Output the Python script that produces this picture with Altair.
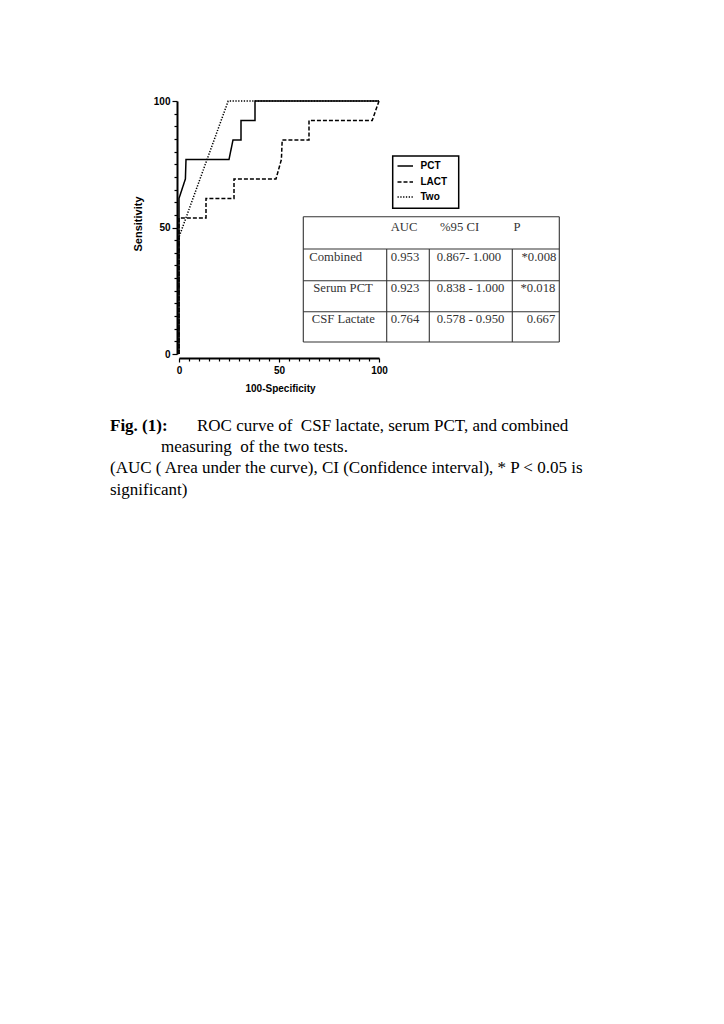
import altair as alt
import pandas as pd

# ---------------- data ----------------
pct_x = [0, 0, 3.2, 3.5, 25, 27, 31, 31, 38, 38, 100]
pct_y = [0, 61.5, 69.2, 76.9, 76.9, 84.6, 84.6, 92.3, 92.3, 100, 100]

lact_x = [0, 0, 13.5, 13.5, 27.5, 27.5, 48.5, 51.2, 51.6, 65, 65, 96.6, 100]
lact_y = [0, 53.8, 53.8, 61.5, 61.5, 69.2, 69.2, 76.9, 84.6, 84.6, 92.3, 92.3, 100]

two_x = [0, 0, 24.6, 100]
two_y = [0, 46.2, 100, 100]

series_names = ["PCT", "LACT", "Two"]

table_header = ["AUC", "%95 CI", "P"]
table_rows = ["Combined", "Serum PCT", "CSF Lactate"]
table_auc = ["0.953", "0.923", "0.764"]
table_ci = ["0.867- 1.000", "0.838 - 1.000", "0.578 - 0.950"]
table_p = ["*0.008", "*0.018", "0.667"]

caption_bold = "Fig. (1):"
caption_lines = [
    "ROC curve of\u00a0 CSF lactate, serum PCT, and combined",
    "measuring\u00a0 of the two tests.",
    "(AUC ( Area under the curve), CI (Confidence interval), * P < 0.05 is",
    "significant)",
]

x_title = "100-Specificity"
y_title = "Sensitivity"

# ---------------- layout (page pixels -> data units) ----------------
PLOT_LEFT, PLOT_TOP, PLOT_W, PLOT_H = 179, 101, 200, 253


def dx(px):
    return (px - PLOT_LEFT) / PLOT_W * 100


def dy(py):
    return (PLOT_TOP + PLOT_H - py) / PLOT_H * 100


rows = []
for name, xs_, ys_ in zip(series_names, [pct_x, lact_x, two_x], [pct_y, lact_y, two_y]):
    for i, (a, b) in enumerate(zip(xs_, ys_)):
        rows.append({"series": name, "i": i, "x": a, "y": b})
curves = pd.DataFrame(rows)

xs = alt.Scale(domain=[0, 100], nice=False, zero=False)
ys = alt.Scale(domain=[0, 100], nice=False, zero=False)

tick_vals = list(range(0, 101, 5))
xaxis = alt.Axis(
    values=tick_vals, title=None, offset=4, grid=False, labelFlush=False,
    labelExpr="datum.value % 50 === 0 ? datum.label : ''",
    tickSize={"condition": {"test": "datum.value % 50 === 0", "value": 4}, "value": 3},
    labelPadding=3, labelAngle=0,
)
yaxis = alt.Axis(
    values=tick_vals, title=None, offset=2, grid=False, labelFlush=False,
    labelExpr="datum.value % 50 === 0 ? datum.label : ''",
    tickSize={"condition": {"test": "datum.value % 50 === 0", "value": 5}, "value": 3},
    labelPadding=2,
)


def X(f):
    return alt.X(f, scale=xs, axis=xaxis)


def Y(f):
    return alt.Y(f, scale=ys, axis=yaxis)


dash_scale = alt.Scale(domain=series_names, range=[[1, 0], [4, 2], [1.3, 1.5]])

lines = alt.Chart(curves).mark_line(color="black", strokeWidth=1.5).encode(
    x=X("x:Q"), y=Y("y:Q"),
    strokeDash=alt.StrokeDash("series:N", scale=dash_scale, legend=None),
    detail="series:N",
    order="i:Q",
)

# axis titles
titles_df = pd.DataFrame([
    {"t": x_title, "x": dx(280.5), "y": dy(388.5)},
    {"t": y_title, "x": dx(139), "y": dy(224)},
])
title_x = alt.Chart(titles_df.iloc[[0]]).mark_text(
    font="Liberation Sans", fontWeight="bold", fontSize=10, color="black", baseline="middle", align="center"
).encode(x=X("x:Q"), y=Y("y:Q"), text="t:N")
title_y = alt.Chart(titles_df.iloc[[1]]).mark_text(
    font="Liberation Sans", fontWeight="bold", fontSize=11, color="black", baseline="middle", align="center", angle=270
).encode(x=X("x:Q"), y=Y("y:Q"), text="t:N")

# legend box
leg_box = pd.DataFrame([{"x": dx(392.7), "y": dy(156), "x2": dx(458.7), "y2": dy(208.3)}])
legend_rect = alt.Chart(leg_box).mark_rect(fill="white", stroke="black", strokeWidth=1.5).encode(
    x=X("x:Q"), y=Y("y:Q"), x2="x2:Q", y2="y2:Q"
)
leg_rows = []
for name, py in zip(series_names, [166, 182, 197]):
    leg_rows.append({"series": name, "i": 0, "x": dx(397.5), "y": dy(py)})
    leg_rows.append({"series": name, "i": 1, "x": dx(413), "y": dy(py)})
leg_df = pd.DataFrame(leg_rows)
legend_lines = alt.Chart(leg_df).mark_line(color="black", strokeWidth=1.5).encode(
    x=X("x:Q"), y=Y("y:Q"),
    strokeDash=alt.StrokeDash("series:N", scale=dash_scale, legend=None),
    detail="series:N", order="i:Q",
)
leg_txt = pd.DataFrame([{"t": n, "x": dx(420.5), "y": dy(py)} for n, py in zip(series_names, [166, 182, 197])])
legend_text = alt.Chart(leg_txt).mark_text(
    font="Liberation Sans", fontWeight="bold", fontSize=10, color="black", align="left", baseline="middle"
).encode(x=X("x:Q"), y=Y("y:Q"), text="t:N")

# table
T_L, T_R = 303.3, 559.3
row_edges = [216.7, 249, 280.7, 311.7, 342]
col_edges = [386.7, 429.3, 512.3]
rule_rows = []
for py in row_edges:
    rule_rows.append({"x": dx(T_L), "x2": dx(T_R), "y": dy(py), "y2": dy(py)})
for px in [T_L, T_R]:
    rule_rows.append({"x": dx(px), "x2": dx(px), "y": dy(row_edges[0]), "y2": dy(row_edges[-1])})
for px in col_edges:
    rule_rows.append({"x": dx(px), "x2": dx(px), "y": dy(row_edges[1]), "y2": dy(row_edges[-1])})
table_rules = alt.Chart(pd.DataFrame(rule_rows)).mark_rule(color="#333", strokeWidth=1.1).encode(
    x=X("x:Q"), y=Y("y:Q"), x2="x2:Q", y2="y2:Q"
)
cells = []
for t, px in zip(table_header, [390.7, 440, 513.5]):
    cells.append({"t": t, "x": dx(px), "y": dy(227.3)})
row_y = [257.3, 288.3, 319.3]
for i in range(3):
    cells.append({"t": table_rows[i], "x": dx([309.3, 313.3, 311.7][i]), "y": dy(row_y[i])})
    cells.append({"t": table_auc[i], "x": dx(390.7), "y": dy(row_y[i])})
    cells.append({"t": table_ci[i], "x": dx(436.7), "y": dy(row_y[i])})
    cells.append({"t": table_p[i], "x": dx([521.5, 520.5, 526.7][i]), "y": dy(row_y[i])})
table_text = alt.Chart(pd.DataFrame(cells)).mark_text(
    font="Liberation Serif", fontSize=12.7, color="#333", align="left", baseline="middle"
).encode(x=X("x:Q"), y=Y("y:Q"), text="t:N")

# caption
cap_bold = alt.Chart(pd.DataFrame([{"t": caption_bold, "x": dx(110), "y": dy(425.5)}])).mark_text(
    font="Liberation Serif", fontSize=17, fontWeight="bold", color="black", align="left", baseline="middle"
).encode(x=X("x:Q"), y=Y("y:Q"), text="t:N")
cap_pos = [(197, 425.5), (161, 446.5), (110, 468), (110, 490)]
cap_df = pd.DataFrame([{"t": t, "x": dx(p[0]), "y": dy(p[1])} for t, p in zip(caption_lines, cap_pos)])
cap_text = alt.Chart(cap_df).mark_text(
    font="Liberation Serif", fontSize=17, color="black", align="left", baseline="middle"
).encode(x=X("x:Q"), y=Y("y:Q"), text="t:N")

chart = alt.layer(
    table_rules, table_text, legend_rect, legend_lines, legend_text,
    lines, title_x, title_y, cap_bold, cap_text,
).properties(
    width=PLOT_W, height=PLOT_H,
    autosize=alt.AutoSizeParams(type="none"),
    padding={"left": PLOT_LEFT - 8, "top": PLOT_TOP - 8, "right": 708 - (PLOT_LEFT - 8) - PLOT_W, "bottom": 620},
    background="white",
).configure_view(strokeWidth=0).configure_axis(
    domainColor="black", domainWidth=2, tickColor="black", tickWidth=1.2,
    labelFont="Liberation Sans", labelFontWeight="bold", labelFontSize=10, labelColor="black",
)

chart.save("out.html", embed_options={"renderer": "svg", "actions": False})
